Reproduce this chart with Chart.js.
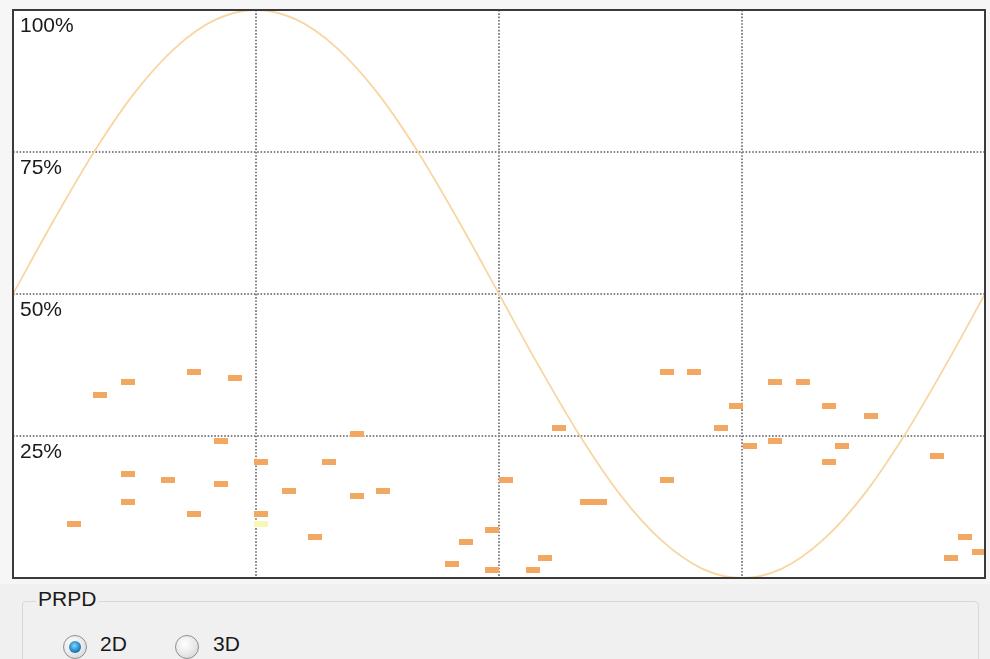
<!DOCTYPE html>
<html>
<head>
<meta charset="utf-8">
<script src="https://cdn.jsdelivr.net/npm/chart.js@4.4.1/dist/chart.umd.min.js"></script>
<style>
  html, body { margin: 0; padding: 0; width: 990px; height: 659px; overflow: hidden; background: #f0f0f0; font-family: "Liberation Sans", Arial, sans-serif; }
  #wrap { position: absolute; left: 0; top: 0; width: 990px; height: 584px; }
  .group { position: absolute; left: 22px; top: 601px; width: 955px; height: 90px; border: 1px solid #d3dbe0; border-radius: 4px; }
  .group-title { position: absolute; left: 36px; top: 588px; padding: 0 2px; background: #f0f0f0; font-size: 21px; line-height: 21px; color: #1a1a1a; }
  .radio { position: absolute; width: 22px; height: 22px; border-radius: 50%; border: 1px solid #8f8f8f;
           background: radial-gradient(circle at 40% 35%, #ffffff 0%, #e8e8e8 55%, #cdcdcd 100%); }
  .radio.on::after { content: ''; position: absolute; left: 5px; top: 5px; width: 12px; height: 12px; border-radius: 50%;
           background: radial-gradient(circle at 45% 40%, #8ad6f7 0%, #2188c8 55%, #0c4b80 100%); }
  .label { position: absolute; font-size: 21px; line-height: 21px; color: #1a1a1a; }
</style>
</head>
<body>
<div id="wrap"><canvas id="prpd" width="990" height="584"></canvas></div>
<div class="group"></div>
<div class="group-title">PRPD</div>
<div class="radio on" style="left:63px; top:635px;"></div>
<div class="label" style="left:100px; top:633px;">2D</div>
<div class="radio" style="left:175px; top:635px;"></div>
<div class="label" style="left:213px; top:633px;">3D</div>
<script>
// pulse blocks: phase (deg) and amplitude (%)
const phaseDeg = [32.2, 42.5, 42.5, 57.3, 42.5, 22.5, 66.9, 82.4, 77.2, 92.0,
                  117.2, 77.2, 102.4, 66.9, 92.0, 112.0, 127.5, 127.5, 137.1, 177.4,
                  167.8, 162.6, 177.4, 182.6, 202.2, 212.5, 217.3, 197.0, 192.6, 242.1,
                  242.1, 252.4, 267.6, 262.4, 272.8, 282.4, 292.7, 282.4, 302.3, 302.3,
                  317.9, 307.1, 342.3, 352.6, 347.4, 357.8];
const amplitudePct = [32.3, 34.5, 18.3, 17.2, 13.3, 9.5, 36.2, 35.2, 24.2, 20.4,
                      20.4, 16.5, 15.4, 11.2, 11.2, 7.3, 25.3, 14.4, 15.4, 8.4,
                      6.3, 2.4, 1.4, 17.2, 26.4, 13.3, 13.3, 3.5, 1.4, 36.2,
                      17.2, 36.2, 30.2, 26.4, 23.2, 34.5, 34.5, 24.2, 30.2, 20.4,
                      28.5, 23.2, 21.4, 7.3, 3.5, 4.5];
// single low-count block (pale yellow)
const weakPhaseDeg = [92.0];
const weakAmplitudePct = [9.5];
// reference sine, read every 15 deg
const sinePhaseDeg = [0, 15, 30, 45, 60, 75, 90, 105, 120, 135, 150, 165, 180,
                      195, 210, 225, 240, 255, 270, 285, 300, 315, 330, 345, 360];
const sinePct = [50, 62.9, 75, 85.4, 93.3, 98.3, 100, 98.3, 93.3, 85.4, 75, 62.9, 50,
                 37.1, 25, 14.6, 6.7, 1.7, 0, 1.7, 6.7, 14.6, 25, 37.1, 50];
const yTicks = [0, 25, 50, 75, 100];

function makeBlock(color) {
    const c = document.createElement('canvas');
    c.width = 14; c.height = 6;
    const g = c.getContext('2d');
    g.fillStyle = color;
    g.fillRect(0, 0, 14, 6);
    return c;
}

const framePlugin = {
    id: 'frame',
    beforeDraw(chart) {
        const { ctx, chartArea: a } = chart;
        ctx.save();
        ctx.fillStyle = '#f6f6f6';
        ctx.fillRect(0, 0, chart.width, chart.height);
        ctx.fillStyle = '#ffffff';
        ctx.fillRect(a.left, a.top, a.right - a.left, a.bottom - a.top);
        ctx.restore();
    },
    afterDraw(chart) {
        const { ctx, chartArea: a } = chart;
        ctx.save();
        ctx.strokeStyle = '#3a3a3a';
        ctx.lineWidth = 2;
        ctx.strokeRect(a.left, a.top, a.right - a.left, a.bottom - a.top);
        ctx.restore();
    }
};

const gridColor = (ctx) => (ctx.tick && (ctx.tick.value === 0 || ctx.tick.value === 100 || ctx.tick.value === 360))
    ? 'rgba(0,0,0,0)' : '#858585';

function flatAxis(s) {
    s.paddingTop = 0; s.paddingBottom = 0; s.paddingLeft = 0; s.paddingRight = 0;
}

new Chart(document.getElementById('prpd'), {
    type: 'scatter',
    data: {
        datasets: [{
            label: 'sine',
            data: sinePhaseDeg.map((p, i) => ({ x: p, y: sinePct[i] })),
            showLine: true,
            borderColor: '#f8d6a4',
            borderWidth: 1.8,
            pointRadius: 0,
            cubicInterpolationMode: 'monotone'
        }, {
            label: 'pulses',
            data: phaseDeg.map((p, i) => ({ x: p, y: amplitudePct[i] })),
            pointStyle: makeBlock('#f2a862'),
            pointRadius: 3
        }, {
            label: 'weak',
            data: weakPhaseDeg.map((p, i) => ({ x: p, y: weakAmplitudePct[i] })),
            pointStyle: makeBlock('#f9f7b4'),
            pointRadius: 3
        }]
    },
    plugins: [framePlugin],
    options: {
        responsive: false,
        animation: false,
        events: [],
        layout: { padding: { left: 13, top: 10, right: 3, bottom: 6 } },
        plugins: { legend: { display: false }, tooltip: { enabled: false } },
        scales: {
            x: {
                type: 'linear', min: 0, max: 360,
                afterFit(s) { s.height = 0; flatAxis(s); },
                ticks: { display: false, stepSize: 90 },
                grid: { color: gridColor, lineWidth: 2, drawTicks: false },
                border: { display: false, dash: [1.6, 1.7] }
            },
            y: {
                type: 'linear', min: 0, max: 100,
                afterFit(s) { s.width = 0; flatAxis(s); },
                afterBuildTicks(s) { s.ticks = yTicks.map(v => ({ value: v })); },
                ticks: {
                    mirror: true, padding: 7, labelOffset: 16,
                    color: '#1a1a1a',
                    font: { family: '"Liberation Sans", Arial, sans-serif', size: 21 },
                    callback: (v) => v === 0 ? '' : v + '%'
                },
                grid: { color: gridColor, lineWidth: 2, drawTicks: false },
                border: { display: false, dash: [1.6, 1.7] }
            }
        }
    }
});
</script>
</body>
</html>
